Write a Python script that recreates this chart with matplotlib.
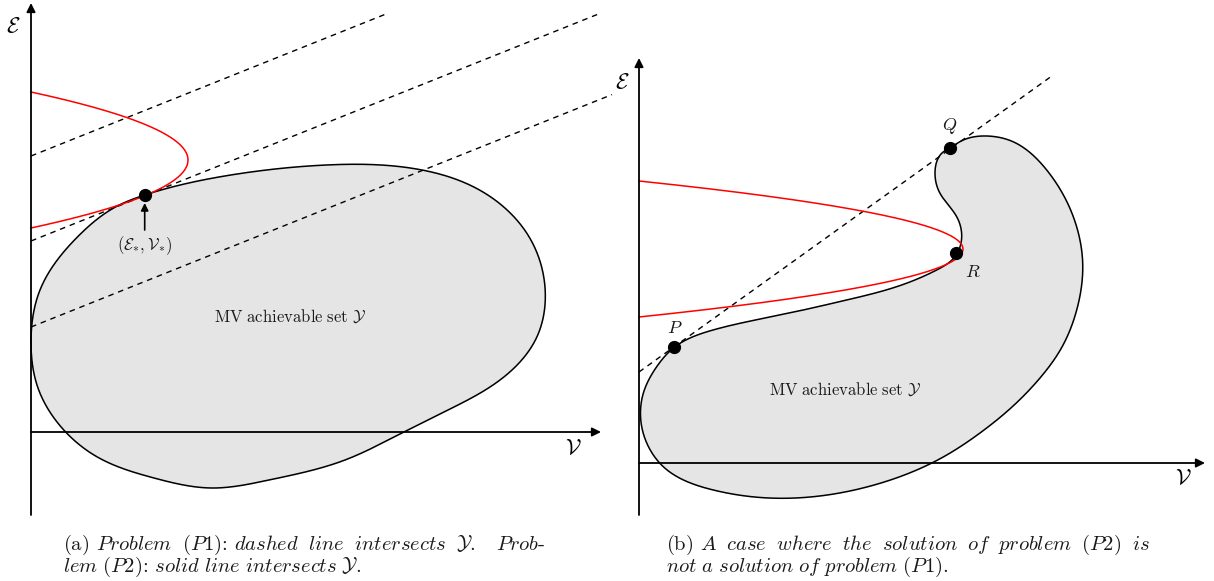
import numpy as np
import matplotlib
matplotlib.use("Agg")
import matplotlib.pyplot as plt

plt.rcParams["mathtext.fontset"] = "cm"
plt.rcParams["font.family"] = ["cmr10", "DejaVu Serif"]

# ---- panel (a) -------------------------------------------------------------
a_origin = (31, 432)           # axis crossing
a_vaxis = (515, 3)             # vertical axis extent (y bottom, y tip)
a_haxis_tip = 601
a_set_x = [144.7, 230.8, 326.4, 422, 479.5, 529, 544.6, 537, 500, 450,
           400, 345, 269, 211.6, 154, 96.8, 62, 38, 31, 40, 77.7, 116]
a_set_y = [195, 175, 165, 170, 190, 236.7, 283, 336.7, 380, 409,
           434, 460, 480, 488, 478, 456.7, 428, 388, 343, 290, 236.7, 206.7]
# level curve of problem (P2): sideways parabola
a_par_ends = (92, 228)
a_par_apex = 188
# level lines of problem (P1)
a_line_start_y = [156, 241, 327]
a_line_end_x = [385, 600, 612]
a_line_slope = -0.4
a_opt = (144.7, 195)

# ---- panel (b) -------------------------------------------------------------
b_origin = (639, 463)
b_vaxis = (515, 58)
b_haxis_tip = 1205
b_set_x = [674.3, 713, 780, 846.7, 896.7, 936.7, 955, 961.7, 956.7, 940, 935,
           941.7, 950, 963.3, 986.7, 1013, 1046.7, 1073.3, 1082.7, 1076.7,
           1062, 1040, 1012, 980, 945, 912, 880, 780, 713.3, 663.3, 641.7,
           643.3, 656.7]
b_set_y = [347.3, 330, 315, 300, 286.7, 270, 256.7, 236.7, 216.7, 193.3, 173.3,
           153.3, 147.7, 140, 136, 141.7, 170, 216.7, 263.3, 310,
           347, 378, 407, 433, 456, 472, 483.3, 498.3, 490, 466.7, 426.7,
           393.3, 366.7]
b_par_ends = (181, 317)
b_par_apex = 963
b_line_start_y = 372
b_line_end_x = 1052
b_line_slope = -0.717
b_points = {"P": (674.3, 347.3), "Q": (950, 147.7), "R": (956, 253)}
b_point_labels = {"P": (675, 328), "Q": (950, 126), "R": (973, 272)}

LW = 1.1
GRAY = "#e5e5e5"
TXT = "#1a1a1a"


def closed_spline(xs, ys, n=1500):
    """Periodic C2 cubic spline through the points (chord-length knots)."""
    P = np.column_stack([xs, ys]).astype(float)
    N = len(P)
    h = np.linalg.norm(np.roll(P, -1, axis=0) - P, axis=1)
    A = np.zeros((N, N))
    for i in range(N):
        A[i, (i - 1) % N] += h[i - 1]
        A[i, i] += 2 * (h[i - 1] + h[i])
        A[i, (i + 1) % N] += h[i]
    slope = (np.roll(P, -1, axis=0) - P) / h[:, None]
    rhs = 6 * (slope - np.roll(slope, 1, axis=0))
    M = np.linalg.solve(A, rhs)
    knots = np.concatenate([[0], np.cumsum(h)])
    s = np.linspace(0, knots[-1], n)
    idx = np.clip(np.searchsorted(knots, s, side="right") - 1, 0, N - 1)
    t0, hi = knots[idx], h[idx]
    a = (knots[idx + 1] - s)[:, None]
    b = (s - t0)[:, None]
    Mi, Mj = M[idx], M[(idx + 1) % N]
    Pi, Pj = P[idx], P[(idx + 1) % N]
    hh = hi[:, None]
    return (Mi * a ** 3 / (6 * hh) + Mj * b ** 3 / (6 * hh)
            + (Pi / hh - Mi * hh / 6) * a + (Pj / hh - Mj * hh / 6) * b)


def parabola(ax, x0, ends, apex):
    y0 = 0.5 * (ends[0] + ends[1])
    k = (apex - x0) / (ends[1] - y0) ** 2
    y = np.linspace(ends[0], ends[1], 300)
    ax.plot(apex - k * (y - y0) ** 2, y, color="red", lw=LW, zorder=4)


def axes_arrows(ax, origin, vaxis, htip):
    arrow = dict(arrowstyle="-|>", color="black", lw=1.3,
                 mutation_scale=13, shrinkA=0, shrinkB=0)
    ax.annotate("", xy=(origin[0], vaxis[1]), xytext=(origin[0], vaxis[0]),
                arrowprops=arrow, zorder=5)
    ax.annotate("", xy=(htip, origin[1]), xytext=(origin[0], origin[1]),
                arrowprops=arrow, zorder=5)


fig = plt.figure(figsize=(12.14, 5.81), dpi=100)
ax = fig.add_axes([0, 0, 1, 1])
ax.set_xlim(0, 1214)
ax.set_ylim(581, 0)
ax.axis("off")

dash = (0, (4, 3.5))

# (a)
C = closed_spline(a_set_x, a_set_y)
ax.fill(C[:, 0], C[:, 1], color=GRAY, zorder=1)
ax.plot(C[:, 0], C[:, 1], color="black", lw=LW, zorder=3)
for y_start, x_end in zip(a_line_start_y, a_line_end_x):
    x = np.array([a_origin[0], x_end])
    ax.plot(x, y_start + a_line_slope * (x - a_origin[0]), color="black",
            lw=1.0, linestyle=dash, zorder=2)
parabola(ax, a_origin[0], a_par_ends, a_par_apex)
axes_arrows(ax, a_origin, a_vaxis, a_haxis_tip)
ax.plot(*a_opt, "o", color="black", ms=8.5, zorder=6)
ax.annotate("", xy=(a_opt[0], a_opt[1] + 8), xytext=(a_opt[0], a_opt[1] + 35),
            arrowprops=dict(arrowstyle="-|>", color="black", lw=1.2,
                            mutation_scale=11, shrinkA=0, shrinkB=0), zorder=6)
ax.text(a_opt[0], 246, r"$(\mathcal{E}_{*},\mathcal{V}_{*})$", fontsize=12,
        ha="center", va="center", color=TXT)
ax.text(290, 316, r"$\mathrm{MV\ achievable\ set}\ \mathcal{Y}$", fontsize=12,
        ha="center", va="center", color=TXT)
ax.text(13, 27, r"$\mathcal{E}$", fontsize=16, ha="center", va="center")
ax.text(573, 449, r"$\mathcal{V}$", fontsize=16, ha="center", va="center")

# (b)
C = closed_spline(b_set_x, b_set_y)
ax.fill(C[:, 0], C[:, 1], color=GRAY, zorder=1)
ax.plot(C[:, 0], C[:, 1], color="black", lw=LW, zorder=3)
x = np.array([b_origin[0], b_line_end_x])
ax.plot(x, b_line_start_y + b_line_slope * (x - b_origin[0]), color="black",
        lw=1.0, linestyle=dash, zorder=2)
parabola(ax, b_origin[0], b_par_ends, b_par_apex)
axes_arrows(ax, b_origin, b_vaxis, b_haxis_tip)
for name, (px, py) in b_points.items():
    ax.plot(px, py, "o", color="black", ms=8.5, zorder=6)
    lx, ly = b_point_labels[name]
    ax.text(lx, ly, f"${name}$", fontsize=13, ha="center", va="center",
            color=TXT)
ax.text(845, 389, r"$\mathrm{MV\ achievable\ set}\ \mathcal{Y}$", fontsize=12,
        ha="center", va="center", color=TXT)
ax.text(622, 83, r"$\mathcal{E}$", fontsize=16, ha="center", va="center")
ax.text(1183, 479, r"$\mathcal{V}$", fontsize=16, ha="center", va="center")

# captions
cap = dict(fontsize=14.8, ha="left", va="center", color=TXT, linespacing=0.92)
ax.text(63, 556,
        r"(a) $\mathit{Problem\;\ (P1)}$: $\mathit{dashed\;\ line\;\ "
        r"intersects}\;\ \mathcal{Y}$.   $\mathit{Prob}$-" "\n"
        r"$\mathit{lem\ (P2)}$: $\mathit{solid\ line\ intersects}\ "
        r"\mathcal{Y}$.", **cap)
ax.text(666, 556,
        r"(b) $\mathit{A\;\ case\;\ where\;\ the\;\ solution\;\ of\;\ "
        r"problem\;\ (P2)\;\ is}$" "\n"
        r"$\mathit{not\ a\ solution\ of\ problem\ (P1)}$.", **cap)

fig.savefig("out.png", dpi=100)
